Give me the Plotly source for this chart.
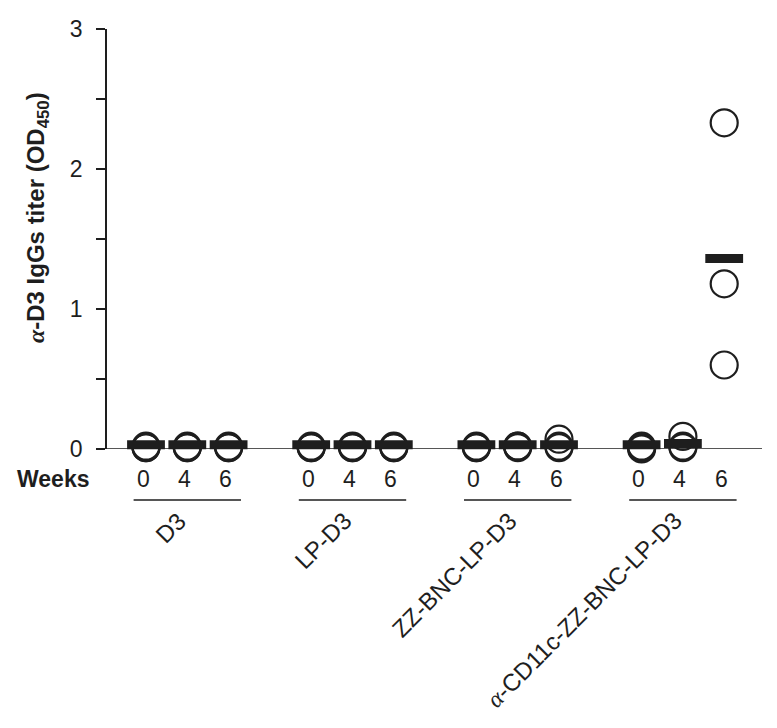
import plotly.graph_objects as go

groups = ["D3", "LP-D3", "ZZ-BNC-LP-D3", "α-CD11c-ZZ-BNC-LP-D3"]
weeks = ["0", "4", "6"]

# individual animal OD450 values, per group -> per week
values = {
    "D3": [[0.01, 0.01, 0.02], [0.01, 0.01, 0.02], [0.01, 0.01, 0.02]],
    "LP-D3": [[0.01, 0.01, 0.02], [0.01, 0.01, 0.02], [0.01, 0.01, 0.02]],
    "ZZ-BNC-LP-D3": [[0.01, 0.01, 0.02], [0.01, 0.02, 0.02], [0.01, 0.02, 0.07]],
    "α-CD11c-ZZ-BNC-LP-D3": [[0.0, 0.01, 0.02], [0.01, 0.02, 0.09], [0.60, 1.18, 2.33]],
}
# group mean bars, per group -> per week
means = {
    "D3": [0.03, 0.03, 0.03],
    "LP-D3": [0.03, 0.03, 0.03],
    "ZZ-BNC-LP-D3": [0.03, 0.03, 0.03],
    "α-CD11c-ZZ-BNC-LP-D3": [0.03, 0.04, 1.36],
}

y_ticks = [0, 0.5, 1, 1.5, 2, 2.5, 3]
y_ticktext = ["0", "", "1", "", "2", "", "3"]

GROUP_STEP = 4
FONT = "Liberation Sans, Arial, sans-serif"
INK = "#1e1e1e"

pt_x, pt_y, bar_x, bar_y = [], [], [], []
for g, name in enumerate(groups):
    for w in range(len(weeks)):
        xpos = g * GROUP_STEP + w
        for v in values[name][w]:
            pt_x.append(xpos)
            pt_y.append(v)
        bar_x.append(xpos)
        bar_y.append(means[name][w])

fig = go.Figure()
fig.add_trace(go.Scatter(
    x=pt_x, y=pt_y, mode="markers", cliponaxis=False,
    marker=dict(symbol="circle-open", size=27, color=INK, line=dict(width=2.2, color=INK)),
    showlegend=False, hoverinfo="y"))
# line-ew markers are drawn 1.4x their size -> ~38 px wide bars
fig.add_trace(go.Scatter(
    x=bar_x, y=bar_y, mode="markers", cliponaxis=False,
    marker=dict(symbol="line-ew", size=27, color=INK, line=dict(width=9, color=INK)),
    showlegend=False, hoverinfo="y"))

# page has an 8px body margin; figure is sized to fit the window
OFF = 8
W, H = 777 - OFF, 728 - OFF
L, T = 107 - OFF, 29 - OFF
R = W - (762 - OFF)
B = H - (449 - OFF)
pw = W - L - R
ph = H - T - B
px_per_unit = 41.3
x0 = -39 / px_per_unit
x1 = x0 + pw / px_per_unit

annotations = []
# week labels
for g in range(len(groups)):
    for w, wk in enumerate(weeks):
        annotations.append(dict(
            x=g * GROUP_STEP + w, y=-30 / ph, xref="x", yref="paper", text=wk,
            showarrow=False, xshift=-3, font=dict(family=FONT, size=23, color=INK),
            xanchor="center", yanchor="middle"))
# group labels
for g, name in enumerate(groups):
    txt = name.replace("α", "<i><span style='font-family:Liberation Serif'>α</span></i>")
    annotations.append(dict(
        x=g * GROUP_STEP + 1, y=-55 / ph, xref="x", yref="paper", text=txt,
        showarrow=False, textangle=-45, xshift=7,
        font=dict(family=FONT, size=24, color=INK),
        xanchor="right", yanchor="top"))
# Weeks label
annotations.append(dict(
    x=-54 / pw, y=-30 / ph, xref="paper", yref="paper", text="<b>Weeks</b>",
    showarrow=False, font=dict(family=FONT, size=23, color=INK),
    xanchor="center", yanchor="middle"))
# y title
annotations.append(dict(
    x=-69 / pw, y=(449 - 218) / ph, xref="paper", yref="paper",
    text="<b><i><span style='font-family:Liberation Serif'>α</span></i>-D3 IgGs titer (OD<sub>450</sub>)</b>",
    showarrow=False, textangle=-90, font=dict(family=FONT, size=24, color=INK),
    xanchor="center", yanchor="middle"))

shapes = [
    # baseline at y = 0
    dict(type="line", xref="paper", yref="y", x0=-9 / pw, x1=1, y0=0, y1=0,
         line=dict(color=INK, width=1.6)),
]
for g in range(len(groups)):
    shapes.append(dict(type="line", xref="x", yref="paper",
                       x0=g * GROUP_STEP - 0.3, x1=g * GROUP_STEP + 2.3,
                       y0=-51 / ph, y1=-51 / ph, line=dict(color=INK, width=1.6)))

fig.update_layout(
    width=W, height=H,
    margin=dict(l=L, r=R, t=T, b=B, pad=0, autoexpand=False),
    paper_bgcolor="white", plot_bgcolor="white",
    xaxis=dict(range=[x0, x1], showgrid=False, zeroline=False, showline=False,
               showticklabels=False, ticks=""),
    yaxis=dict(range=[0, 3], showgrid=False, zeroline=False, showline=True,
               linecolor=INK, linewidth=1.6, ticks="outside", ticklen=9,
               tickwidth=1.6, tickcolor=INK, tickvals=y_ticks, ticktext=y_ticktext,
               ticklabelstandoff=9,
               tickfont=dict(family=FONT, size=23, color=INK)),
    annotations=annotations,
    shapes=shapes,
    font=dict(family=FONT, color=INK),
)

fig.write_html("out.html")
